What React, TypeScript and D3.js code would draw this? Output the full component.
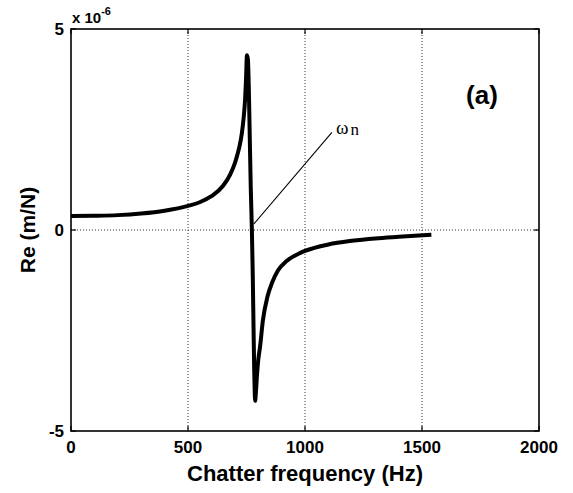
import React from "react";
import * as d3 from "d3";

// Real part of the receptance (m/N, scaled by 1e-6) against chatter frequency (Hz)
const freqHz = [
  0, 100, 200, 300, 400, 500, 550, 600, 650, 680, 700, 710, 720, 730, 738, 744,
  748, 752, 756, 760, 764, 768, 773, 777, 780, 783, 785, 787, 790, 795, 800, 808,
  820, 840, 860, 885, 920, 980, 1000, 1100, 1200, 1300, 1400, 1540,
];
const reValue = [
  0.35, 0.355, 0.37, 0.41, 0.48, 0.6, 0.69, 0.84, 1.1, 1.38, 1.66, 1.85, 2.08, 2.4,
  2.8, 3.25, 3.75, 4.35, 4.25, 3.5, 2.3, 1.1, 0.0, -1.2, -2.4, -3.5, -4.0, -4.25,
  -4.05, -3.6, -3.25, -2.9, -2.25, -1.65, -1.3, -1.0, -0.78, -0.57, -0.52, -0.36,
  -0.27, -0.21, -0.17, -0.12,
];

const xTicks = [0, 500, 1000, 1500, 2000];
const yTicks = [-5, 0, 5];
const xGrid = [500, 1000, 1500];
const yGrid = [0];

const W = 573;
const H = 493;
const left = 71;
const right = 539;
const top = 29;
const bottom = 431;

export default function App() {
  const x = d3.scaleLinear().domain([0, 2000]).range([left, right]);
  const y = d3.scaleLinear().domain([-5, 5]).range([bottom, top]);

  const pts = freqHz.map((f, i) => [f, reValue[i]] as [number, number]);
  const line = d3
    .line<[number, number]>()
    .x((d) => x(d[0]))
    .y((d) => y(d[1]))
    .curve(d3.curveMonotoneX);

  const sans = "'Liberation Sans', Arial, Helvetica, sans-serif";
  const serif = "'Liberation Serif', 'Times New Roman', serif";
  const tick = 5;

  // natural frequency, where the leader line meets the curve
  const wn = 773;

  return (
    <svg
      width={W}
      height={H}
      viewBox={`0 0 ${W} ${H}`}
      style={{ position: "absolute", left: 0, top: 0, background: "#fff" }}
    >
      {/* dotted grid */}
      {xGrid.map((g) => (
        <line
          key={"gx" + g}
          x1={x(g)}
          x2={x(g)}
          y1={top}
          y2={bottom}
          stroke="#333"
          strokeWidth={1}
          strokeDasharray="1 2"
        />
      ))}
      {yGrid.map((g) => (
        <line
          key={"gy" + g}
          x1={left}
          x2={right}
          y1={y(g)}
          y2={y(g)}
          stroke="#333"
          strokeWidth={1}
          strokeDasharray="1 2"
        />
      ))}

      {/* inward tick marks on all four sides */}
      {xTicks.map((t) => (
        <g key={"tx" + t}>
          <line x1={x(t)} x2={x(t)} y1={bottom} y2={bottom - tick} stroke="#000" strokeWidth={1.2} />
          <line x1={x(t)} x2={x(t)} y1={top} y2={top + tick} stroke="#000" strokeWidth={1.2} />
        </g>
      ))}
      {yTicks.map((t) => (
        <g key={"ty" + t}>
          <line x1={left} x2={left + tick} y1={y(t)} y2={y(t)} stroke="#000" strokeWidth={1.2} />
          <line x1={right} x2={right - tick} y1={y(t)} y2={y(t)} stroke="#000" strokeWidth={1.2} />
        </g>
      ))}

      {/* axes box */}
      <rect
        x={left}
        y={top}
        width={right - left}
        height={bottom - top}
        fill="none"
        stroke="#000"
        strokeWidth={1.6}
      />

      {/* response curve */}
      <path
        d={line(pts) ?? ""}
        fill="none"
        stroke="#000"
        strokeWidth={4}
        strokeLinejoin="round"
        strokeLinecap="butt"
      />

      {/* ω_n annotation */}
      <line x1={x(wn) + 2} y1={y(0.15)} x2={x(1115)} y2={y(2.43)} stroke="#000" strokeWidth={1.1} />
      <text x={336} y={134} fontFamily={serif} fontSize={19} fill="#000">
        ω
        <tspan dx={2} dy={1} fontSize={17}>
          n
        </tspan>
      </text>

      {/* panel label */}
      <text x={482} y={104} textAnchor="middle" fontFamily={sans} fontWeight="bold" fontSize={26} fill="#000">
        (a)
      </text>

      {/* tick labels */}
      {xTicks.map((t) => (
        <text
          key={"lx" + t}
          x={x(t)}
          y={453}
          textAnchor="middle"
          fontFamily={sans}
          fontWeight="bold"
          fontSize={17}
          fill="#000"
        >
          {t}
        </text>
      ))}
      {yTicks.map((t) => (
        <text
          key={"ly" + t}
          x={64}
          y={y(t) + 6}
          textAnchor="end"
          fontFamily={sans}
          fontWeight="bold"
          fontSize={17}
          fill="#000"
        >
          {t}
        </text>
      ))}

      {/* exponent */}
      <text x={72} y={23} fontFamily={sans} fontWeight="bold" fontSize={15} fill="#000">
        x 10
        <tspan dy={-8} fontSize={11}>
          -6
        </tspan>
      </text>

      {/* axis titles */}
      <text
        x={(left + right) / 2}
        y={481}
        textAnchor="middle"
        fontFamily={sans}
        fontWeight="bold"
        fontSize={22}
        fill="#000"
      >
        Chatter frequency (Hz)
      </text>
      <text
        transform={`translate(35, ${(top + bottom) / 2}) rotate(-90)`}
        textAnchor="middle"
        fontFamily={sans}
        fontWeight="bold"
        fontSize={21}
        fill="#000"
      >
        Re (m/N)
      </text>
    </svg>
  );
}
